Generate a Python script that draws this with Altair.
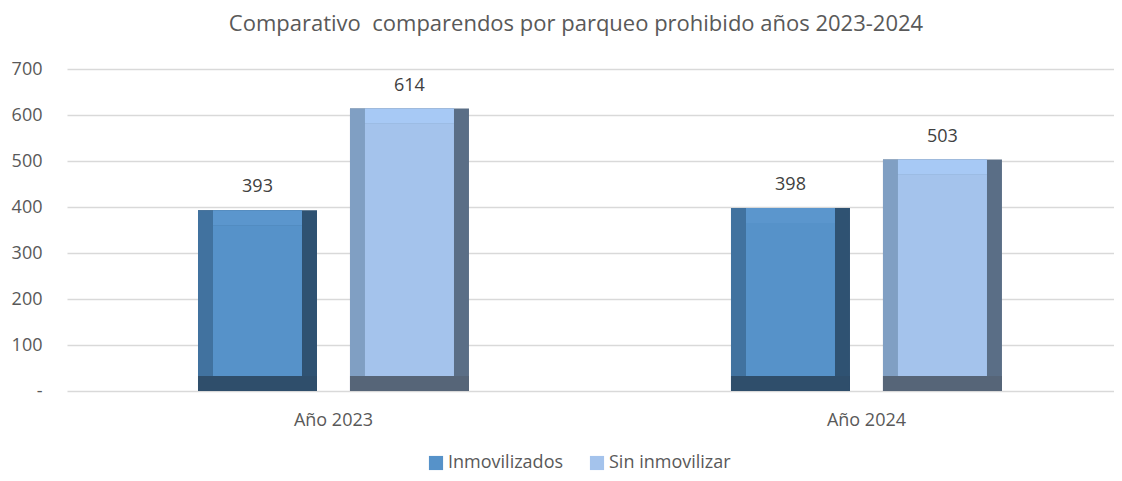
import altair as alt
import pandas as pd

years = ["Año 2023", "Año 2023", "Año 2024", "Año 2024"]
series = ["Inmovilizados", "Sin inmovilizar", "Inmovilizados", "Sin inmovilizar"]
values = [393, 614, 398, 503]
series_order = ["Inmovilizados", "Sin inmovilizar"]
year_order = ["Año 2023", "Año 2024"]
y_ticks = [0, 100, 200, 300, 400, 500, 600, 700]

df = pd.DataFrame({"year": years, "series": series, "value": values})

FONT = "Open Sans"
GREY = "#595959"

x_enc = alt.X("year:N", sort=year_order, title=None,
              scale=alt.Scale(paddingInner=0.4916, paddingOuter=0.228, align=0.539),
              axis=alt.Axis(labelAngle=0, labelFontSize=18, labelColor=GREY, labelFont=FONT,
                            ticks=False, domain=False, grid=False, labelPadding=20))
xo_enc = alt.XOffset("series:N", sort=series_order,
                     scale=alt.Scale(type="band", paddingInner=0.217, paddingOuter=0))
# offset scale shifted left for the left bevel strip
xo_left = alt.XOffset("series:N", sort=series_order,
                      scale=alt.Scale(type="band", paddingInner=0.217, paddingOuter=0,
                                      range=[-7.5, 263.5]))
y_scale = alt.Scale(domain=[0, 700], nice=False)
y_enc = alt.Y("value:Q", scale=y_scale, title=None,
              axis=alt.Axis(values=y_ticks, labelExpr="datum.value == 0 ? '-' : datum.label",
                            labelFontSize=18, labelColor=GREY, labelFont=FONT,
                            ticks=False, domain=False, labelPadding=25, grid=True,
                            gridColor="#d9d9d9", gridWidth=1.3))

def col(rng, legend=None):
    return alt.Color("series:N", sort=series_order,
                     scale=alt.Scale(domain=series_order, range=rng), legend=legend)

base = alt.Chart(df)

# outer bar (right bevel colour)
outer = base.mark_bar(width=119).encode(
    x=x_enc, xOffset=xo_enc, y=y_enc, color=col(["#2f5272", "#5a6e86"]))
# left bevel
left = base.mark_bar(width=104).encode(
    x=x_enc, xOffset=xo_left, y=y_enc, color=col(["#41729f", "#809fc3"]))
# top bevel
top = base.mark_bar(width=89, y2Offset=15).encode(
    x=x_enc, xOffset=xo_enc, y=y_enc, y2="value:Q", color=col(["#5b96cd", "#a7c9f5"]))
# bottom bevel
bottom = base.mark_bar(width=119, yOffset=-15).encode(
    x=x_enc, xOffset=xo_enc, y=alt.Y(datum=0, scale=y_scale), y2=alt.Y2(datum=0),
    color=col(["#2f4e6b", "#566578"]))
# face
face = base.mark_bar(width=89, yOffset=15, y2Offset=-15).encode(
    x=x_enc, xOffset=xo_enc, y=y_enc, y2=alt.Y2(datum=0),
    color=col(["#5692c9", "#a4c3ec"],
              legend=alt.Legend(title=None, orient="none", direction="horizontal",
                                legendX=360, legendY=385, symbolType="square",
                                symbolSize=200, symbolStrokeWidth=0,
                                labelFontSize=18, labelFont=FONT, labelColor=GREY,
                                labelOffset=3, columnPadding=24)))

labels = base.mark_text(baseline="middle", dy=-23, fontSize=18, font=FONT, color="#404040").encode(
    x=x_enc, xOffset=xo_enc, y=y_enc, text="value:Q")

chart = alt.layer(outer, left, top, bottom, face, labels).resolve_scale(
    color="independent", xOffset="independent"
).properties(
    width=1047, height=322,
    autosize=alt.AutoSizeParams(type="none"),
    padding={"left": 59, "top": 61, "right": 0, "bottom": 82},
    title=alt.TitleParams("Comparativo\u00a0 comparendos por parqueo prohibido años 2023-2024",
                          fontSize=22, font=FONT, color=GREY, fontWeight="normal",
                          anchor="middle", dx=-14.5, offset=24),
).configure_view(stroke=None)

chart.save("out.html", embed_options={"renderer": "svg", "actions": False})
